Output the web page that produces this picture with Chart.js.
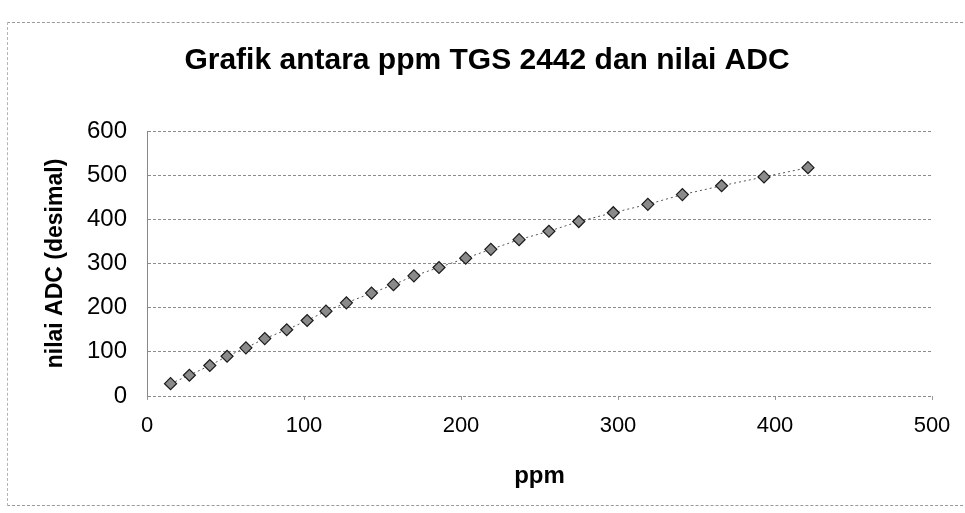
<!DOCTYPE html>
<html>
<head>
<meta charset="utf-8">
<script src="https://cdn.jsdelivr.net/npm/chart.js@4/dist/chart.umd.min.js"></script>
<style>
  html, body { margin: 0; padding: 0; background: #fff; }
  #wrap { position: relative; width: 965px; height: 513px; overflow: hidden; }
  #frame { position: absolute; left: 7px; top: 22px; width: 980px; height: 482px;
           border-top: 1px dashed #9a9a9a; border-left: 1px dashed #b5b5b5; border-bottom: 1px dashed #9a9a9a; }
  canvas { position: absolute; left: 0; top: 0; }
</style>
</head>
<body>
<div id="wrap">
  <div id="frame"></div>
  <canvas id="c" width="965" height="513"></canvas>
</div>
<script>
const chartTitle = 'Grafik antara ppm TGS 2442 dan nilai ADC';
const xTitle = 'ppm';
const yTitle = 'nilai ADC (desimal)';
const ppmValues = [15, 27, 40, 51, 63, 75, 89, 102, 114, 127, 143, 157, 170, 186, 203, 219, 237, 256, 275, 297, 319, 341, 366, 393, 421];
const adcValues = [28, 47, 69, 90, 109, 130, 150, 171, 192, 211, 233, 252, 272, 291, 312, 332, 354, 373, 395, 415, 434, 456, 476, 496, 517];
const xTicks = [0, 100, 200, 300, 400, 500];
const yTicks = [0, 100, 200, 300, 400, 500, 600];

const points = ppmValues.map((x, i) => ({ x: x, y: adcValues[i] }));

new Chart(document.getElementById('c'), {
  type: 'scatter',
  data: {
    datasets: [{
      data: points,
      showLine: true,
      borderColor: '#555',
      borderWidth: 1,
      borderDash: [2, 3],
      pointStyle: 'rectRot',
      pointRadius: 6,
      pointBackgroundColor: '#8a8a8a',
      pointBorderColor: '#1a1a1a',
      pointBorderWidth: 1.2
    }]
  },
  options: {
    responsive: false,
    animation: false,
    layout: { padding: { top: 0, right: 33, bottom: 0, left: 42 } },
    plugins: {
      legend: { display: false },
      tooltip: { enabled: false },
      title: {
        display: true,
        text: chartTitle,
        color: '#000',
        font: { family: 'Liberation Sans, Arial, sans-serif', size: 30, weight: 'bold' },
        padding: { top: 43, bottom: 52 }
      }
    },
    scales: {
      x: {
        type: 'linear',
        min: xTicks[0],
        max: xTicks[xTicks.length - 1],
        afterBuildTicks: s => { s.ticks = xTicks.map(v => ({ value: v })); },
        afterFit: s => { s.height = 117; },
        grid: { drawOnChartArea: false, drawTicks: true, tickLength: 4, color: '#999' },
        border: { display: false },
        ticks: { color: '#000', padding: 13, maxRotation: 0,
                 font: { family: 'Liberation Sans, Arial, sans-serif', size: 22 } },
        title: { display: true, text: xTitle, color: '#000',
                 font: { family: 'Liberation Sans, Arial, sans-serif', size: 24, weight: 'bold' },
                 padding: { top: 0, bottom: 22 } }
      },
      y: {
        type: 'linear',
        min: yTicks[0],
        max: yTicks[yTicks.length - 1],
        afterBuildTicks: s => { s.ticks = yTicks.map(v => ({ value: v })); },
        afterFit: s => { s.width = 105; },
        grid: { drawTicks: false, color: '#8c8c8c', lineWidth: 1 },
        border: { display: true, color: '#888', dash: [3, 2] },
        ticks: { color: '#000', padding: 20,
                 font: { family: 'Liberation Sans, Arial, sans-serif', size: 24 } },
        title: { display: true, text: yTitle, color: '#000',
                 font: { family: 'Liberation Sans, Arial, sans-serif', size: 23, weight: 'bold' },
                 padding: { top: 0, bottom: 0 } }
      }
    }
  }
});
</script>
</body>
</html>
